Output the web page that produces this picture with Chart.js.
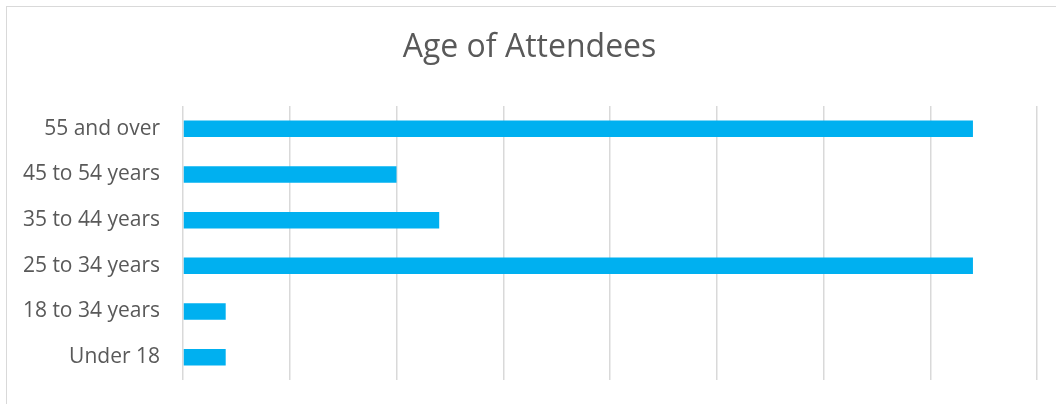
<!doctype html>
<html lang="en">
<head>
    <meta charset="utf-8">
    <title>Age of Attendees</title>
    <script src="https://cdn.jsdelivr.net/npm/chart.js"></script>
    <style>
        body { margin: 0; background: #fff; }
        .frame {
            position: absolute; left: 6px; top: 6px;
            width: 1100px; height: 500px;
            border: 1.5px solid #d9d9d9;
        }
        .chart-container { position: absolute; left: 0; top: 0; width: 1056px; height: 404px; }
    </style>
</head>
<body>
<div class="frame"></div>
<div class="chart-container">
    <canvas id="age-chart" width="1056" height="404"></canvas>
</div>
<script>
    // age groups, top to bottom
    const ageGroups = ['55 and over', '45 to 54 years', '35 to 44 years', '25 to 34 years', '18 to 34 years', 'Under 18'];
    const attendees = [37, 10, 12, 37, 2, 2];
    const axisMax = 40;
    const axisStep = 5;

    const textColor = '#595959';
    const gridColor = '#d9d9d9';

    new Chart(document.getElementById('age-chart').getContext('2d'), {
        type: 'bar',
        data: {
            labels: ageGroups,
            datasets: [{
                data: attendees,
                backgroundColor: '#00b0f0',
                borderWidth: 0,
                categoryPercentage: 1,
                barPercentage: 0.36
            }]
        },
        options: {
            indexAxis: 'y',
            responsive: false,
            animation: false,
            // left padding nudges the title towards the frame centre
            layout: { padding: { left: 22, right: 19, top: 0, bottom: 24 } },
            plugins: {
                legend: { display: false },
                tooltip: { enabled: false },
                title: {
                    display: true,
                    text: 'Age of Attendees',
                    color: textColor,
                    font: { family: 'Open Sans', size: 32, weight: 'normal' },
                    padding: { top: 29, bottom: 38.6 }
                }
            },
            scales: {
                x: {
                    min: 0,
                    max: axisMax,
                    ticks: { display: false, stepSize: axisStep },
                    grid: { color: gridColor, lineWidth: 1.5, drawTicks: false },
                    border: { display: false }
                },
                y: {
                    afterFit: function (axis) {
                        axis.width = 161;
                        // labels sit inside the category bands, no extra room needed
                        axis.paddingTop = 0;
                        axis.paddingBottom = 0;
                    },
                    ticks: {
                        color: textColor,
                        padding: 23,
                        font: { family: 'Open Sans', size: 21 }
                    },
                    grid: { display: false, drawTicks: false },
                    border: { display: false }
                }
            }
        }
    });
</script>
</body>
</html>
